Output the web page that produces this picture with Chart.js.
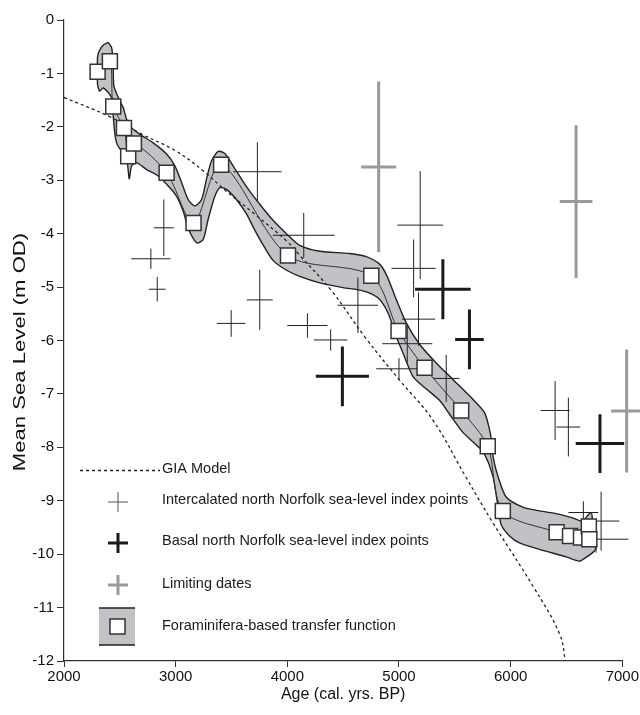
<!DOCTYPE html>
<html>
<head>
<meta charset="utf-8">
<script src="https://cdn.jsdelivr.net/npm/chart.js@4.4.0/dist/chart.umd.min.js"></script>
<style>
  html, body { margin: 0; padding: 0; background: #fff; }
  #wrap { width: 640px; height: 715px; position: relative; }
</style>
</head>
<body>
<div id="wrap"><canvas id="seaChart"></canvas></div>
<script>
// ================== Data ==================
const ageTicks = [2000, 3000, 4000, 5000, 6000, 7000];
const levelTicks = [0, -1, -2, -3, -4, -5, -6, -7, -8, -9, -10, -11, -12];

// Foraminifera-based transfer function reconstructions
const foramAge = [2301, 2411, 2441, 2537, 2575, 2626, 2919, 3160, 3407, 4006, 4752, 4996, 5229, 5557, 5795, 5930, 6412, 6532, 6630, 6700, 6705];
const foramLevel = [-0.97, -0.77, -1.62, -2.02, -2.55, -2.31, -2.86, -3.80, -2.71, -4.41, -4.79, -5.82, -6.51, -7.31, -7.98, -9.19, -9.59, -9.66, -9.69, -9.48, -9.72];

// Error envelope of the transfer function (upper edge left->right, lower edge right->left)
const bandUpperAge = [2396, 2427, 2441, 2447, 2501, 2530, 2561, 2606, 2680, 2799, 2919, 2993, 3053, 3112, 3172, 3232, 3276, 3321, 3381, 3440, 3514, 3634, 3753, 3872, 3992, 4111, 4290, 4558, 4707, 4826, 4892, 4975, 5065, 5184, 5333, 5483, 5662, 5766, 5810, 5830, 5845, 5886, 5960, 6108, 6258, 6407, 6556, 6640, 6720, 6735, 6765];
const bandUpperLevel = [-0.42, -0.52, -0.86, -1.24, -1.52, -1.64, -1.86, -2.02, -2.14, -2.30, -2.51, -2.73, -3.04, -3.36, -3.48, -3.36, -2.98, -2.64, -2.46, -2.50, -2.73, -3.12, -3.45, -3.75, -4.00, -4.22, -4.33, -4.37, -4.43, -4.57, -4.79, -5.23, -5.67, -6.07, -6.42, -6.73, -7.10, -7.35, -7.66, -7.90, -8.20, -8.54, -8.93, -9.12, -9.19, -9.24, -9.32, -9.38, -9.22, -9.40, -9.85];
const bandLowerAge = [6750, 6675, 6615, 6496, 6258, 6079, 5990, 5916, 5886, 5841, 5760, 5690, 5572, 5453, 5363, 5229, 5124, 5035, 4975, 4901, 4811, 4677, 4498, 4290, 4111, 3990, 3872, 3780, 3700, 3634, 3544, 3455, 3395, 3351, 3291, 3246, 3187, 3112, 3068, 3008, 2948, 2843, 2740, 2650, 2606, 2584, 2561, 2477, 2456, 2441, 2425, 2352, 2320, 2300, 2300, 2316, 2352];
const bandLowerLevel = [-9.94, -10.06, -10.13, -10.05, -9.91, -9.79, -9.66, -9.45, -9.10, -8.54, -8.10, -7.95, -7.72, -7.38, -7.12, -6.88, -6.67, -6.23, -5.92, -5.48, -5.20, -5.07, -5.01, -4.92, -4.80, -4.68, -4.50, -4.20, -3.90, -3.63, -3.36, -3.17, -3.14, -3.30, -3.73, -4.11, -4.17, -3.90, -3.58, -3.30, -3.14, -2.92, -2.80, -2.67, -2.73, -2.97, -2.61, -2.33, -2.14, -1.80, -1.45, -1.27, -1.33, -1.20, -0.70, -0.58, -0.47];

// GIA model
const giaAge = [2000, 2400, 2700, 3000, 3250, 3450, 3700, 4000, 4100, 4400, 4700, 5000, 5300, 5600, 5840, 6200, 6440, 6490];
const giaLevel = [-1.45, -1.80, -2.14, -2.45, -2.83, -3.20, -3.62, -4.15, -4.38, -5.08, -5.95, -6.73, -7.48, -8.56, -9.41, -10.60, -11.50, -12.00];

// Intercalated north Norfolk sea-level index points
const interAge = [5190, 5131, 5175, 5074, 5000, 5423, 4632, 4180, 4388, 4147, 3732, 2894, 2778, 2835, 3497, 3753, 6398, 6517, 6651, 6810, 6765];
const interLevel = [-3.84, -4.65, -5.60, -6.06, -6.53, -6.71, -5.34, -5.72, -5.99, -4.03, -2.84, -3.89, -4.47, -5.04, -5.68, -5.24, -7.31, -7.62, -9.22, -9.38, -9.72];
const interAgeErr = [205, 198, 149, 224, 204, 119, 182, 180, 150, 277, 216, 89, 176, 75, 127, 116, 130, 106, 134, 164, 290];
const interLevelErr = [1.01, 0.54, 0.50, 0.35, 0.20, 0.44, 0.52, 0.23, 0.20, 0.42, 0.55, 0.53, 0.19, 0.23, 0.25, 0.56, 0.55, 0.55, 0.21, 0.55, 0.25];

// Basal north Norfolk sea-level index points
const basalAge = [5393, 5631, 4493, 6800];
const basalLevel = [-5.04, -5.98, -6.67, -7.93];
const basalAgeErr = [249, 128, 238, 217];
const basalLevelErr = [0.56, 0.56, 0.56, 0.55];

// Limiting dates
const limitAge = [4818, 6586, 7039];
const limitLevel = [-2.75, -3.40, -7.32];
const limitAgeErr = [157, 146, 140];
const limitLevelErr = [1.60, 1.43, 1.15];

// ================== Helpers ==================
const FONT = "'Liberation Sans', Arial, Helvetica, sans-serif";
const toPoints = (xs, ys) => xs.map((x, i) => ({ x: x, y: ys[i] }));

const bandPoly = toPoints(bandUpperAge, bandUpperLevel).concat(toPoints(bandLowerAge, bandLowerLevel));
bandPoly.push({ x: bandUpperAge[0], y: bandUpperLevel[0] });

function drawCrosses(ctx, xs, ys, ages, levels, ageErr, lvlErr, color, width) {
  ctx.save();
  ctx.strokeStyle = color;
  ctx.lineWidth = width;
  ctx.lineCap = "butt";
  ages.forEach((a, i) => {
    const px = xs.getPixelForValue(a);
    const py = ys.getPixelForValue(levels[i]);
    const x0 = xs.getPixelForValue(a - ageErr[i]);
    const x1 = xs.getPixelForValue(a + ageErr[i]);
    const y0 = ys.getPixelForValue(levels[i] + lvlErr[i]);
    const y1 = ys.getPixelForValue(levels[i] - lvlErr[i]);
    ctx.beginPath();
    ctx.moveTo(x0, py); ctx.lineTo(x1, py);
    ctx.moveTo(px, y0); ctx.lineTo(px, y1);
    ctx.stroke();
  });
  ctx.restore();
}

function legendCross(ctx, cx, cy, color, width) {
  ctx.save();
  ctx.strokeStyle = color;
  ctx.lineWidth = width;
  ctx.beginPath();
  ctx.moveTo(cx - 10, cy); ctx.lineTo(cx + 10, cy);
  ctx.moveTo(cx, cy - 10); ctx.lineTo(cx, cy + 10);
  ctx.stroke();
  ctx.restore();
}

// ================== Plugins ==================
const crossPlugin = {
  id: "crosses",
  afterDatasetDraw(chart, args) {
    if (args.index !== 2) return;
    const { ctx, scales } = chart;
    drawCrosses(ctx, scales.x, scales.y, interAge, interLevel, interAgeErr, interLevelErr, "#222", 1);
    drawCrosses(ctx, scales.x, scales.y, limitAge, limitLevel, limitAgeErr, limitLevelErr, "#9a9a9a", 3);
    drawCrosses(ctx, scales.x, scales.y, basalAge, basalLevel, basalAgeErr, basalLevelErr, "#1a1a1a", 3);
  },
};

// y title is drawn by hand so it can be stretched along its length like the original
const yTitlePlugin = {
  id: "yTitle",
  afterDraw(chart) {
    const ctx = chart.ctx;
    ctx.save();
    ctx.translate(20, 352);
    ctx.rotate(-Math.PI / 2);
    ctx.scale(1.3, 1);
    ctx.fillStyle = "#111";
    ctx.font = "17px " + FONT;
    ctx.textAlign = "center";
    ctx.textBaseline = "middle";
    ctx.fillText("Mean Sea Level (m OD)", 0, 0);
    ctx.restore();
  },
};

const legendPlugin = {
  id: "customLegend",
  afterDraw(chart) {
    const ctx = chart.ctx;
    ctx.save();
    // GIA model
    ctx.strokeStyle = "#222";
    ctx.lineWidth = 1.3;
    ctx.setLineDash([3, 3]);
    ctx.beginPath();
    ctx.moveTo(80, 470.5); ctx.lineTo(160, 470.5);
    ctx.stroke();
    ctx.setLineDash([]);

    legendCross(ctx, 118, 502, "#555", 1);
    legendCross(ctx, 118, 543, "#1a1a1a", 3);
    legendCross(ctx, 118, 585, "#9a9a9a", 3);

    // transfer function icon
    ctx.fillStyle = "#c1c2c6";
    ctx.fillRect(99, 608, 36, 37);
    ctx.strokeStyle = "#222";
    ctx.lineWidth = 1.4;
    ctx.beginPath();
    ctx.moveTo(99, 608); ctx.lineTo(135, 608);
    ctx.moveTo(99, 645); ctx.lineTo(135, 645);
    ctx.stroke();
    ctx.fillStyle = "#fff";
    ctx.fillRect(110, 619, 15, 15);
    ctx.strokeStyle = "#333";
    ctx.lineWidth = 1.5;
    ctx.strokeRect(110, 619, 15, 15);

    ctx.fillStyle = "#1a1a1a";
    ctx.font = "14.5px " + FONT;
    ctx.textBaseline = "middle";
    ctx.textAlign = "left";
    ctx.fillText("GIA Model", 162, 469);
    ctx.fillText("Intercalated north Norfolk sea-level index points", 162, 500);
    ctx.fillText("Basal north Norfolk sea-level index points", 162, 541);
    ctx.fillText("Limiting dates", 162, 584);
    ctx.fillText("Foraminifera-based transfer function", 162, 626);
    ctx.restore();
  },
};

// ================== Chart ==================
const ctx = document.getElementById("seaChart").getContext("2d");
const seaChart = new Chart(ctx, {
  type: "scatter",
  data: {
    datasets: [
      {
        label: "Foraminifera-based transfer function",
        data: toPoints(foramAge, foramLevel),
        showLine: true,
        borderColor: "#333",
        borderWidth: 1,
        tension: 0.3,
        pointStyle: "rect",
        pointRadius: 10.6,
        pointBackgroundColor: "#fff",
        pointBorderColor: "#333",
        pointBorderWidth: 1.5,
        order: 0,
      },
      {
        label: "GIA Model",
        data: toPoints(giaAge, giaLevel),
        showLine: true,
        borderColor: "#222",
        borderWidth: 1.3,
        borderDash: [3, 3],
        tension: 0.4,
        pointRadius: 0,
        order: 1,
      },
      {
        label: "Envelope",
        data: bandPoly,
        showLine: true,
        fill: "shape",
        backgroundColor: "#c1c2c6",
        borderColor: "#222",
        borderWidth: 1.4,
        tension: 0.25,
        pointRadius: 0,
        order: 2,
      },
    ],
  },
  options: {
    responsive: true,
    maintainAspectRatio: false,
    animation: false,
    devicePixelRatio: 1,
    layout: { padding: { top: 20, right: 17, left: 0, bottom: 0 } },
    plugins: { legend: { display: false }, tooltip: { enabled: false } },
    scales: {
      x: {
        type: "linear",
        min: 2000,
        max: 7000,
        afterBuildTicks: (s) => { s.ticks = ageTicks.map((v) => ({ value: v })); },
        afterFit: (s) => { s.height = 54; },
        grid: { drawOnChartArea: false, drawTicks: true, tickLength: 6, color: "#333" },
        border: { color: "#333", width: 1.2 },
        ticks: { font: { size: 15, family: FONT }, color: "#111", padding: 1, maxRotation: 0, callback: (v) => String(v) },
        title: { display: true, text: "Age (cal. yrs. BP)", font: { size: 16, family: FONT }, color: "#111", padding: { top: 0, bottom: 11 } },
      },
      y: {
        type: "linear",
        min: -12,
        max: 0,
        afterBuildTicks: (s) => { s.ticks = levelTicks.map((v) => ({ value: v })); },
        afterFit: (s) => { s.width = 64; },
        grid: { drawOnChartArea: false, drawTicks: true, tickLength: 7, color: "#333" },
        border: { color: "#333", width: 1.2 },
        ticks: { font: { size: 15, family: FONT }, color: "#111", padding: 3, callback: (v) => String(v) },
        title: { display: false },
      },
    },
  },
  plugins: [crossPlugin, yTitlePlugin, legendPlugin],
});
</script>
</body>
</html>
